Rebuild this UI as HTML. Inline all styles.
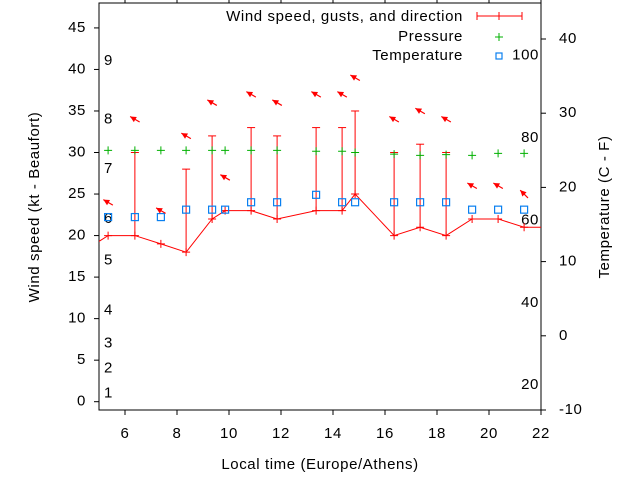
<!DOCTYPE html>
<html><head><meta charset="utf-8"><style>
html,body{margin:0;padding:0;background:#fff}
svg{display:block;font-family:"Liberation Sans",sans-serif}
</style></head><body>
<svg id="chart" width="640" height="480" viewBox="0 0 640 480">
<rect x="0" y="0" width="640" height="480" fill="#fff"/>
<g id="g"></g>
</svg>
<script>
const hours = [4.85,5.35,6.38,7.38,8.35,9.35,9.85,10.85,11.85,13.35,14.35,14.85,16.35,17.35,18.35,19.35,20.35,21.35,22.35];
const speed = [19,20,20,19,18,22,23,23,22,23,23,25,20,21,20,22,22,21,21];
const gust  = [19,20,30,19,28,32,23,33,32,33,33,35,30,31,30,22,22,21,21];
const pressure = [null,30.25,30.25,30.25,30.25,30.25,30.25,30.25,30.25,30.15,30.15,30.0,29.8,29.65,29.75,29.65,29.9,29.9,null];
const tempC = [null,16,16,16,17,17,17,18,18,19,18,18,18,18,18,17,17,17,null];
const arrowY = [null,24,34,23,32,36,27,37,36,37,37,39,34,35,34,26,26,25,null];
const arrowDir = [null,300,300,300,300,300,300,300,300,300,300,300,300,300,300,300,300,315,null];
const xTicks = [6,8,10,12,14,16,18,20,22];
const yTicks = [0,5,10,15,20,25,30,35,40,45];
const y2Ticks = [-10,0,10,20,30,40];
const beaufort = [1,4,7,11,17,22,28,34,41];
const fahr = [20,40,60,80,100];

const L=99,R=541,T=3,B=410;
const xs = h => L + (h-5)*(R-L)/17;
const ys = v => B - (v+1)*(B-T)/49;
const y2s = c => 410 - (c+10)*7.42;
const NS="http://www.w3.org/2000/svg";
const g=document.getElementById('g');
function mk(tag,attrs,name,parent){const e=document.createElementNS(NS,tag);for(const k in attrs)e.setAttribute(k,attrs[k]);


(parent||g).appendChild(e);return e;}
function txt(x,y,s,anchor,name,extra){const t=mk('text',Object.assign({x:x,y:y,'font-size':15,'letter-spacing':0.6,fill:'#000','text-anchor':anchor||'start','dominant-baseline':'middle'},extra||{}),name);t.textContent=s;return t;}

mk('rect',{x:L,y:T,width:R-L,height:B-T,fill:'none',stroke:'#000','stroke-width':1},'plot-frame');
xTicks.forEach(h=>{const x=xs(h);
 mk('line',{x1:x,y1:B,x2:x,y2:B+5,stroke:'#000'},'x-tick');
 mk('line',{x1:x,y1:T,x2:x,y2:T-4,stroke:'#000'},'x-tick-top');
 txt(x,434,String(h),'middle','x-tick-label');});
yTicks.forEach(v=>{const y=ys(v);
 mk('line',{x1:L-5,y1:y,x2:L,y2:y,stroke:'#000'},'y-tick');
 txt(86,y,String(v),'end','y-tick-label');});
y2Ticks.forEach(c=>{const y=y2s(c);
 mk('line',{x1:R,y1:y,x2:R+5,y2:y,stroke:'#000'},'y2-tick');
 txt(559,y,String(c),'start','y2-tick-label');});
beaufort.forEach((k,i)=>txt(104,ys(k),String(i+1),'start','beaufort-label'));
fahr.forEach(f=>txt(539,y2s((f-32)*5/9),String(f),'end','fahrenheit-label'));

txt(320,465,'Local time (Europe/Athens)','middle','x-axis-title');
txt(35,207,'Wind speed (kt - Beaufort)','middle','y-axis-title',{transform:'rotate(-90 35 207)'});
txt(605,207,'Temperature (C - F)','middle','y2-axis-title',{transform:'rotate(-90 605 207)'});

const clip=mk('clipPath',{id:'cp'},'clip');
mk('rect',{x:L,y:T,width:R-L,height:B-T},'clip-rect',clip);
const pg=mk('g',{'clip-path':'url(#cp)'},'plot-area');

mk('polyline',{points:hours.map((h,i)=>xs(h)+','+ys(speed[i])).join(' '),fill:'none',stroke:'#f00','stroke-width':1},'wind-speed-line',pg);
hours.forEach((h,i)=>{const x=xs(h),y=ys(speed[i]);
 if(gust[i]>speed[i]){const yg=ys(gust[i]);
  mk('line',{x1:x,y1:y,x2:x,y2:yg,stroke:'#f00'},'gust-bar',pg);
  mk('line',{x1:x-4,y1:yg,x2:x+4,y2:yg,stroke:'#f00'},'gust-cap',pg);}
 mk('path',{d:`M${x-4},${y}H${x+4}M${x},${y-4}V${y+4}`,stroke:'#f00'},'wind-speed-point',pg);
 if(pressure[i]!=null){const yp=ys(pressure[i]);
  mk('path',{d:`M${x-4},${yp}H${x+4}M${x},${yp-4}V${yp+4}`,stroke:'#00b000'},'pressure-point',pg);}
 if(tempC[i]!=null){const yt=y2s(tempC[i]);
  mk('rect',{x:x-3.5,y:yt-3.5,width:7,height:7,fill:'none',stroke:'#0a80f0','stroke-width':1.2},'temperature-point',pg);}
 if(arrowY[i]!=null){const ya=ys(arrowY[i]);const a=(arrowDir[i])*Math.PI/180;
  const dx=Math.sin(a),dy=-Math.cos(a);const hx=x+dx*5.5,hy=ya+dy*5.5,tx=x-dx*5.5,ty=ya-dy*5.5;
  const px=-dy,py=dx;
  mk('line',{x1:tx,y1:ty,x2:hx,y2:hy,stroke:'#f00','stroke-width':1.2},'wind-direction-shaft',pg);
  mk('polygon',{points:`${hx},${hy} ${hx-dx*6+px*3},${hy-dy*6+py*3} ${hx-dx*6-px*3},${hy-dy*6-py*3}`,fill:'#f00'},'wind-direction-arrow',pg);}
});

txt(463,17,'Wind speed, gusts, and direction','end','legend-wind-label');
mk('path',{d:'M477,16H522M477,12V20M522,12V20M499,12V20',stroke:'#f00'},'legend-wind-sample');
txt(463,37,'Pressure','end','legend-pressure-label');
mk('path',{d:'M495,37H503M499,33V41',stroke:'#00b000'},'legend-pressure-sample');
txt(463,56,'Temperature','end','legend-temperature-label');
mk('rect',{x:496,y:53,width:6,height:6,fill:'none',stroke:'#0a80f0','stroke-width':1.2},'legend-temperature-sample');
</script>
</body></html>
